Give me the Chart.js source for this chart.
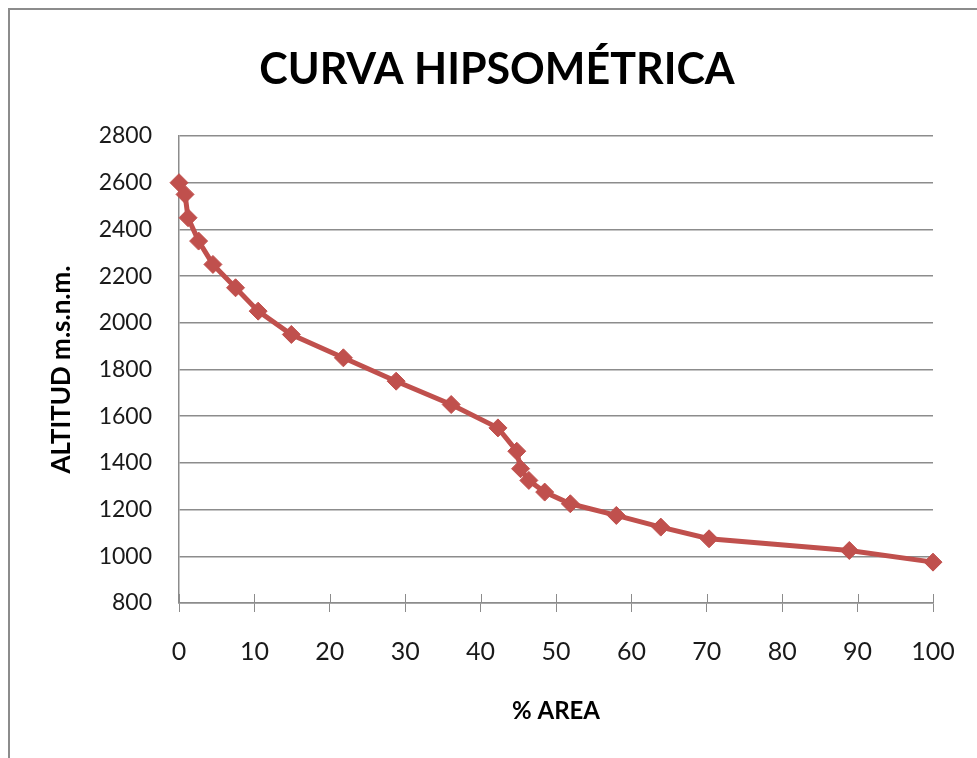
<!DOCTYPE html>
<html>
<head>
<meta charset="utf-8">
<title>Curva hipsométrica</title>
<script src="https://cdn.jsdelivr.net/npm/chart.js@4.4.1/dist/chart.umd.min.js"></script>
<style>
    body { margin: 0; background: #fff; overflow: hidden; }
    #wrap { position: relative; width: 977px; height: 758px; }
    #frame { position: absolute; left: 8px; top: 8px; width: 990px; height: 780px;
             border-left: 2px solid #8c8c8c; border-top: 2px solid #8c8c8c; pointer-events: none; }
</style>
</head>
<body>
<div id="wrap">
    <canvas id="hipso" width="977" height="758"></canvas>
    <div id="frame"></div>
</div>
<script>
// Datos
const areaPct = [0, 0.8, 1.2, 2.6, 4.5, 7.5, 10.5, 14.9, 21.8, 28.8, 36.1, 42.3,
                 44.8, 45.3, 46.4, 48.5, 51.9, 58.0, 63.9, 70.3, 88.9, 100];
const altitud = [2600, 2550, 2450, 2350, 2250, 2150, 2050, 1950, 1850, 1750, 1650, 1550,
                 1450, 1375, 1325, 1275, 1225, 1175, 1125, 1075, 1025, 975];
const xTicks = [0, 10, 20, 30, 40, 50, 60, 70, 80, 90, 100];
const yTicks = [800, 1000, 1200, 1400, 1600, 1800, 2000, 2200, 2400, 2600, 2800];

const rojo = '#C0504D';
const gris = '#8c8c8c';
const fuente = 'Lato, "Liberation Sans", sans-serif';

// marcas del eje X que cruzan el eje (la parte de arriba)
const crossTicks = {
    id: 'crossTicks',
    beforeDatasetsDraw(chart) {
        const { ctx, scales: { x }, chartArea } = chart;
        ctx.save();
        ctx.strokeStyle = gris;
        ctx.lineWidth = 1;
        xTicks.forEach(v => {
            const px = Math.round(x.getPixelForValue(v)) + 0.5;
            ctx.beginPath();
            ctx.moveTo(px, chartArea.bottom);
            ctx.lineTo(px, chartArea.bottom - 9);
            ctx.stroke();
        });
        ctx.restore();
    }
};

const ctx = document.getElementById('hipso').getContext('2d');
new Chart(ctx, {
    type: 'scatter',
    data: {
        datasets: [{
            label: 'Curva',
            data: areaPct.map((a, i) => ({ x: a, y: altitud[i] })),
            showLine: true,
            borderColor: rojo,
            backgroundColor: rojo,
            borderWidth: 5,
            pointStyle: 'rectRot',
            pointRadius: 9,
            pointHoverRadius: 9,
            pointBorderWidth: 1,
            clip: false
        }]
    },
    options: {
        responsive: false,
        animation: false,
        // padding izquierdo para centrar el título como en el original
        layout: { padding: { left: 61, right: 44, top: 0, bottom: 0 } },
        plugins: {
            legend: { display: false },
            tooltip: { enabled: false },
            title: {
                display: true,
                text: 'CURVA HIPSOMÉTRICA',
                color: '#000',
                font: { family: fuente, size: 43, weight: 'bold', lineHeight: 1.2 },
                padding: { top: 44, bottom: 40.4 }
            }
        },
        scales: {
            x: {
                type: 'linear',
                min: 0,
                max: 100,
                afterBuildTicks: s => { s.ticks = xTicks.map(v => ({ value: v })); },
                afterFit: s => { s.height = 155; s.paddingLeft = 0; s.paddingRight = 0; },
                ticks: {
                    color: '#1a1a1a',
                    padding: 25,
                    maxRotation: 0,
                    callback: v => String(v),
                    font: { family: fuente, size: 25 }
                },
                grid: { drawOnChartArea: false, tickLength: 9, color: gris },
                border: { color: gris, width: 1.5 },
                title: {
                    display: true,
                    text: '% AREA',
                    color: '#000',
                    font: { family: fuente, size: 24, weight: 'bold', lineHeight: 1.2 },
                    padding: { top: 0, bottom: 32 }
                }
            },
            y: {
                min: 800,
                max: 2800,
                afterBuildTicks: s => { s.ticks = yTicks.map(v => ({ value: v })); },
                afterFit: s => { s.width = 118; },
                ticks: {
                    color: '#1a1a1a',
                    padding: 27,
                    callback: v => String(v),
                    font: { family: fuente, size: 23 }
                },
                grid: { drawTicks: false, color: gris, lineWidth: 1.5 },
                border: { color: gris, width: 1.5 },
                title: {
                    display: true,
                    text: 'ALTITUD m.s.n.m.',
                    color: '#000',
                    font: { family: fuente, size: 26, weight: 'bold', lineHeight: 1.2 },
                    padding: { top: -14.6, bottom: 0 }
                }
            }
        }
    },
    plugins: [crossTicks]
});
</script>
</body>
</html>
